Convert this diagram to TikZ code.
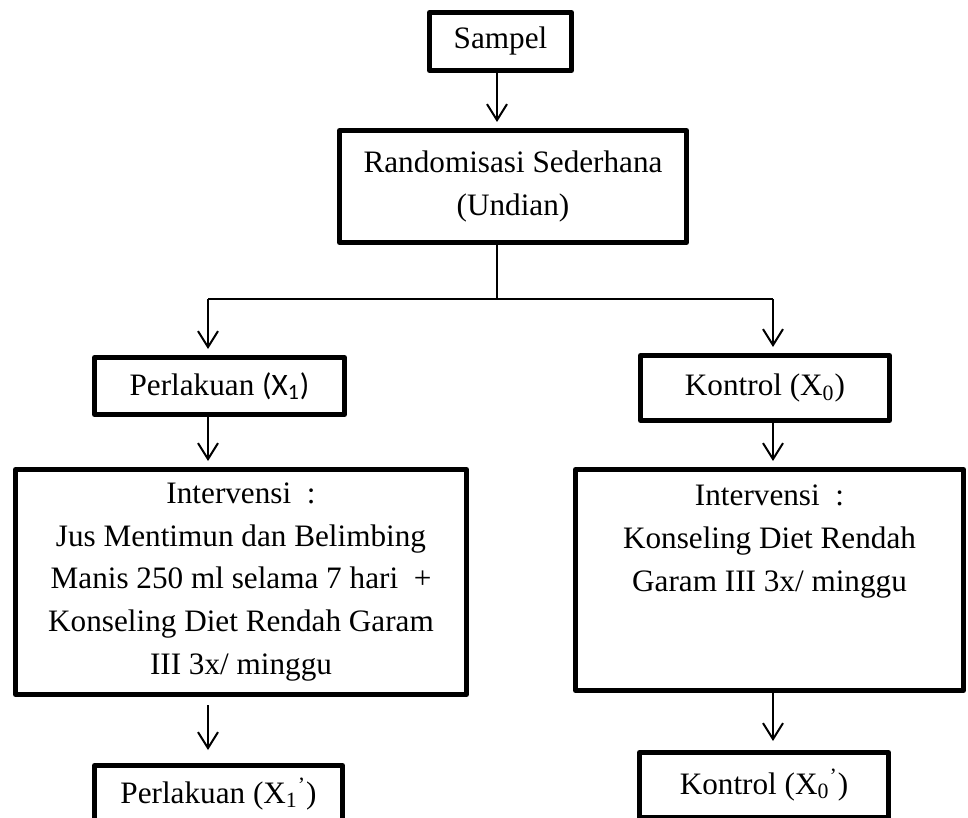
\documentclass[tikz,border=0pt]{standalone}
\usepackage{fontspec}
\setmainfont{Liberation Serif}
\newfontfamily\calfont{Carlito}
\usepackage{tikz}
\usetikzlibrary{arrows.meta}

\begin{document}
\begin{tikzpicture}[
          x=0.5pt,y=-0.5pt,
          font=\fontsize{15.6}{21.4}\selectfont,
          bx/.style={draw,line width=2.5pt,line join=round,inner sep=0pt,align=center},
          arr/.style={-{Straight Barb[length=8pt,width=10pt]},line width=1pt,shorten >=3pt},
          link/.style={line width=0.8pt}
            ]
            \clip (0,0) rectangle (968,818);
            \node[bx,minimum width=71pt,minimum height=29pt] (sam) at (500.5,41.5) {Sampel};
            \node[bx,minimum width=173.5pt,minimum height=56pt] (ran) at (513,186.5) {Randomisasi Sederhana\\(Undian)};
            \node[bx,minimum width=125pt,minimum height=28.5pt] (per) at (219.5,386) {Perlakuan {\calfont(X\textsubscript{1})}};
            \node[bx,minimum width=124.5pt,minimum height=32.5pt] (kon) at (765,388) {Kontrol (X\textsubscript{0})};
            \node[bx,minimum width=225.5pt,minimum height=112.5pt] (intP) at (241,582) {Intervensi~ :\\Jus Mentimun dan Belimbing\\Manis 250 ml selama 7 hari~~+\\Konseling Diet Rendah Garam\\III 3x/ minggu};
            \node[bx,minimum width=194pt,minimum height=110.5pt] (intK) at (769.5,580) {\parbox[c][95pt][t]{180pt}{\centering Intervensi~ :\\Konseling Diet Rendah\\Garam III 3x/ minggu}};
            \node[bx,minimum width=124pt,minimum height=28.5pt] (outP) at (218.5,794) {Perlakuan (X\textsubscript{1}\textsuperscript{'})};
            \node[bx,minimum width=124.5pt,minimum height=32.5pt] (outK) at (764,785) {Kontrol (X\textsubscript{0}\textsuperscript{'})};
            % split after randomisation
            \coordinate (mid) at (497,299);
            \coordinate (lcol) at (208,299);
            \coordinate (rcol) at (773,299);
            \draw[arr] (sam.south -| mid) -- (ran.north -| mid);
            \draw[link] (ran.south -| mid) -- (mid);
            \draw[link] (lcol) -- (rcol);
            \draw[arr] (lcol) -- (lcol |- per.north);
            \draw[arr] (rcol) -- (rcol |- kon.north);
            \draw[arr] (per.south -| lcol) -- (intP.north -| lcol);
            \draw[arr] (kon.south -| rcol) -- (intK.north -| rcol);
            \draw[arr,shorten <=4pt,shorten >=6.5pt] (intP.south -| lcol) -- (outP.north -| lcol);
            \draw[arr,shorten >=4.5pt] (intK.south -| rcol) -- (outK.north -| rcol);
            \end{tikzpicture}
\end{document}
